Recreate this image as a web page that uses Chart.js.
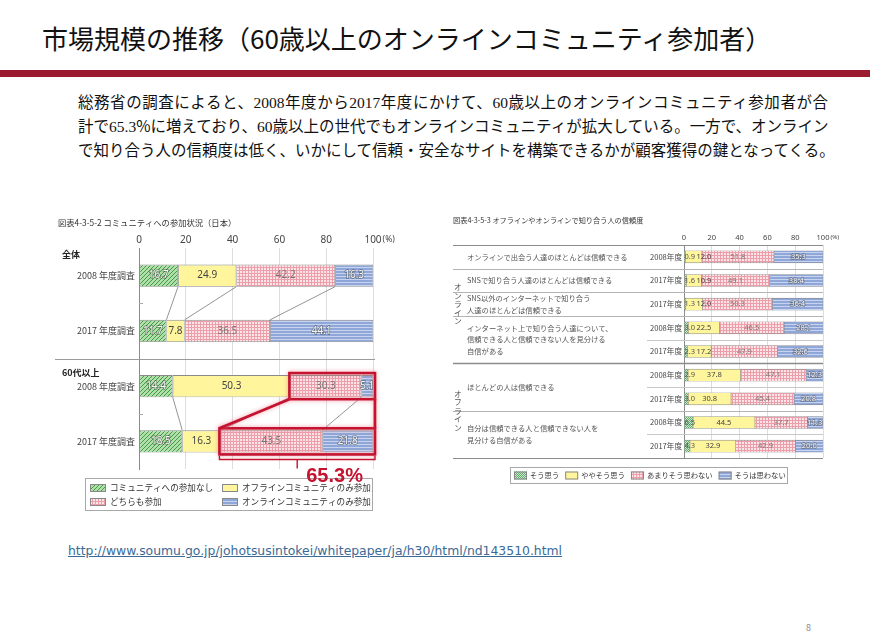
<!DOCTYPE html>
<html lang="ja">
<head>
<meta charset="utf-8">
<title>市場規模の推移</title>
<script src="https://cdn.jsdelivr.net/npm/chart.js@4.4.1/dist/chart.umd.min.js"></script>
<style>
  html, body { margin: 0; padding: 0; background: #fff; }
  body { width: 870px; height: 631px; position: relative; overflow: hidden; font-family: "Noto Sans CJK JP", "Noto Sans", sans-serif; color: #111; }
  .titulo { position: absolute; left: 42px; top: 20px; font-size: 26px; line-height: 36px; white-space: nowrap; }
  .faixa { position: absolute; left: 0; top: 70px; width: 870px; height: 7px; background: #9a1b2f; }
  .texto { position: absolute; left: 78px; top: 90px; font-size: 15.5px; line-height: 22px; }
  .texto div { white-space: nowrap; text-align: justify; text-align-last: justify; }
  .texto .n { font-family: "Liberation Serif", serif; }
  .link { position: absolute; left: 68px; top: 543px; font-family: "DejaVu Sans", sans-serif; font-size: 12.4px; color: #3b6a96; text-decoration: underline; white-space: nowrap; }
  .pagina { position: absolute; left: 806px; top: 621px; font-size: 9px; color: #888; }
  #graficoComunidade { position: absolute; left: 50px; top: 210px; }
  #graficoConfianca { position: absolute; left: 450px; top: 210px; }
</style>
</head>
<body>
<div class="titulo">市場規模の推移（60歳以上のオンラインコミュニティ参加者）</div>
<div class="faixa"></div>
<div class="texto">
  <div style="width:750px">総務省の調査によると、<span class="n">2008</span>年度から<span class="n">2017</span>年度にかけて、<span class="n">60</span>歳以上のオンラインコミュニティ参加者が合</div>
  <div style="width:750px">計で<span class="n">65.3</span>%に増えており、<span class="n">60</span>歳以上の世代でもオンラインコミュニティが拡大している。一方で、オンライン</div>
  <div style="width:755px">で知り合う人の信頼度は低く、いかにして信頼・安全なサイトを構築できるかが顧客獲得の鍵となってくる。</div>
</div>
<canvas id="graficoComunidade" width="360" height="305"></canvas>
<canvas id="graficoConfianca" width="400" height="280"></canvas>
<div class="link">http://www.soumu.go.jp/johotsusintokei/whitepaper/ja/h30/html/nd143510.html</div>
<div class="pagina">8</div>
<script>
// 図表4-3-5-2 コミュニティへの参加状況
const rotulosComunidade = ['2008 年度調査', '2017 年度調査', '2008 年度調査', '2017 年度調査'];
const gruposComunidade = ['全体', '60代以上'];
const semParticipacao = [16.7, 11.7, 14.4, 18.5];
const soOffline = [24.9, 7.8, 50.3, 16.3];
const ambos = [42.2, 36.5, 30.3, 43.5];
const soOnline = [16.3, 44.1, 5.1, 21.8];
const legendaComunidade = ['コミュニティへの参加なし', 'オフラインコミュニティのみ参加', 'どちらも参加', 'オンラインコミュニティのみ参加'];

// 図表4-3-5-3 知り合う人の信頼度
const perguntas = [
  ['オンラインで出会う人達のほとんどは信頼できる'],
  ['SNSで知り合う人達のほとんどは信頼できる'],
  ['SNS以外のインターネットで知り合う', '人達のほとんどは信頼できる'],
  ['インターネット上で知り合う人達について、', '信頼できる人と信頼できない人を見分ける', '自信がある'],
  ['ほとんどの人は信頼できる'],
  ['自分は信頼できる人と信頼できない人を', '見分ける自信がある']
];
const linhasPergunta = [1, 1, 1, 2, 2, 2];
const blocos = ['オンライン', 'オフライン'];
const perguntasBloco = [4, 2];
const anos = ['2008年度', '2017年度', '2017年度', '2008年度', '2017年度', '2008年度', '2017年度', '2008年度', '2017年度'];
const souOmou = [0.9, 1.6, 1.3, 3.0, 2.3, 2.9, 3.0, 6.5, 4.3];
const yayaSou = [12.0, 10.9, 12.0, 22.5, 17.2, 37.8, 30.8, 44.5, 32.9];
const amariSou = [51.8, 49.1, 50.3, 46.5, 47.9, 47.1, 45.4, 37.7, 42.9];
const souWaOmowanai = [35.3, 38.4, 36.4, 28.1, 32.6, 12.3, 20.8, 11.3, 20.0];
const legendaConfianca = ['そう思う', 'ややそう思う', 'あまりそう思わない', 'そうは思わない'];

const fonteJp = '"Noto Sans CJK JP", "Noto Sans", sans-serif';

function criaPadrao(tipo, fundo, tinta) {
  const c = document.createElement('canvas');
  const t = tipo === 'diagonal' ? 4 : tipo === 'xadrez' ? 2 : 3;
  c.width = t; c.height = t;
  const g = c.getContext('2d');
  g.fillStyle = fundo; g.fillRect(0, 0, t, t);
  g.fillStyle = tinta; g.strokeStyle = tinta;
  if (tipo === 'diagonal') {
    g.lineWidth = 1;
    g.beginPath();
    g.moveTo(0, t); g.lineTo(t, 0);
    g.moveTo(-1, 1); g.lineTo(1, -1);
    g.moveTo(t - 1, t + 1); g.lineTo(t + 1, t - 1);
    g.stroke();
  } else if (tipo === 'grade') {
    g.fillRect(0, 0, t, 1); g.fillRect(0, 0, 1, t);
  } else if (tipo === 'listras') {
    g.fillRect(0, 0, t, 1);
  } else {
    g.fillRect(0, 0, 1, 1); g.fillRect(1, 1, 1, 1);
  }
  return c.getContext('2d').createPattern(c, 'repeat');
}

const verdeHachura = criaPadrao('diagonal', '#b2dfa8', '#3f9b4d');
const verdeXadrez = criaPadrao('xadrez', '#5fae6e', '#cfe9d1');
const amarelo = '#fff59d';
const rosa = criaPadrao('grade', '#fde4e7', '#ec9eaa');
const azul = criaPadrao('listras', '#8ea7d8', '#c8d4ef');

function eixoX(tamanho, padding, altura) {
  return {
    type: 'linear', position: 'top', min: 0, max: 100, stacked: true,
    ticks: { stepSize: 20, padding: padding, color: '#444', font: { family: '"Noto Sans", sans-serif', size: tamanho } },
    grid: { color: '#d4d4d4', lineWidth: 0.8, drawTicks: false },
    border: { display: false },
    afterFit(s) { s.height = altura; s.paddingLeft = 0; s.paddingRight = 0; }
  };
}

function eixoY(tamanho, padding, largura) {
  return {
    type: 'category', stacked: true,
    ticks: { padding: padding, color: '#444', font: { family: fonteJp, size: tamanho } },
    grid: { display: false, drawTicks: false },
    border: { display: true, color: '#8a8a8a', width: 1 },
    afterFit(s) { s.width = largura; s.paddingTop = 0; s.paddingBottom = 0; }
  };
}

// valores dentro das barras
function rotulosValores(opcoes) {
  return {
    id: 'rotulosValores',
    afterDatasetsDraw(chart) {
      const ctx = chart.ctx;
      ctx.save();
      ctx.font = opcoes.fonte;
      ctx.textBaseline = 'middle';
      ctx.textAlign = 'left';
      for (let i = 0; i < chart.data.labels.length; i++) {
        let cursor = -Infinity;
        chart.data.datasets.forEach((ds, d) => {
          const el = chart.getDatasetMeta(d).data[i];
          const esq = Math.min(el.base, el.x), dir = Math.max(el.base, el.x);
          const txt = ds.data[i].toFixed(1);
          const tw = ctx.measureText(txt).width;
          let x0 = (esq + dir) / 2 - tw / 2;
          if (opcoes.empurra) {
            if (tw + 2 > dir - esq) x0 = esq;
            x0 = Math.max(x0, cursor);
          }
          cursor = x0 + tw + 1.5;
          const cor = opcoes.cores[d];
          if (cor.contorno) {
            ctx.strokeStyle = cor.contorno; ctx.lineWidth = 1.5;
            ctx.strokeText(txt, x0, el.y);
          }
          ctx.fillStyle = cor.texto;
          ctx.fillText(txt, x0, el.y);
        });
      }
      ctx.restore();
    }
  };
}

function textoPorcento(chart, tamanho, padding) {
  const { ctx, scales: { x } } = chart;
  ctx.save();
  ctx.font = tamanho + 'px "Noto Sans", sans-serif';
  const meia = ctx.measureText('100').width / 2;
  ctx.font = (tamanho - 1.5) + 'px "Noto Sans", sans-serif';
  ctx.fillStyle = '#444';
  ctx.textBaseline = 'middle';
  ctx.fillText('(%)', x.getPixelForValue(100) + meia + 1, x.bottom - padding - tamanho * 0.6);
  ctx.restore();
}

const extrasComunidade = {
  id: 'extrasComunidade',
  beforeDatasetsDraw(chart) {
    const { ctx, chartArea, scales: { y } } = chart;
    ctx.save();
    ctx.lineWidth = 1;
    const meio = Math.round((y.getPixelForValue(1) + y.getPixelForValue(2)) / 2) + 0.5;
    ctx.strokeStyle = '#9a9a9a';
    ctx.beginPath(); ctx.moveTo(5, meio); ctx.lineTo(chartArea.right + 2, meio); ctx.stroke();
    ctx.strokeStyle = '#aaa';
    [0, 2].forEach(i => {
      const m = Math.round((y.getPixelForValue(i) + y.getPixelForValue(i + 1)) / 2) + 0.5;
      ctx.beginPath(); ctx.moveTo(chartArea.left, m); ctx.lineTo(chartArea.left + 4, m); ctx.stroke();
    });
    ctx.restore();
  },
  afterDatasetsDraw(chart) {
    const { ctx, scales: { x } } = chart;
    const metas = chart.data.datasets.map((d, i) => chart.getDatasetMeta(i));
    const barra = (d, i) => metas[d].data[i];
    ctx.save();
    ctx.strokeStyle = '#7a7a7a'; ctx.lineWidth = 0.8;
    [[0, 1], [2, 3]].forEach(([a, b]) => {
      for (let d = 0; d < metas.length - 1; d++) {
        const ea = barra(d, a), eb = barra(d, b);
        ctx.beginPath();
        ctx.moveTo(ea.x, ea.y + ea.height / 2);
        ctx.lineTo(eb.x, eb.y - eb.height / 2);
        ctx.stroke();
      }
    });
    // destaque vermelho: どちらも参加 + オンラインのみ (60代以上)
    const r2 = barra(1, 2), r3 = barra(1, 3);
    const dir = x.getPixelForValue(100) + 2;
    const c2 = { l: r2.x - 1, t: r2.y - r2.height / 2 - 2, b: r2.y + r2.height / 2 + 2 };
    const c3 = { l: r3.x - 1, t: r3.y - r3.height / 2 - 2, b: r3.y + r3.height / 2 + 2 };
    ctx.strokeStyle = '#c4122f'; ctx.lineWidth = 2.6;
    ctx.shadowColor = 'rgba(235,110,125,0.7)'; ctx.shadowBlur = 4;
    ctx.strokeRect(c2.l, c2.t, dir - c2.l, c2.b - c2.t);
    ctx.strokeRect(c3.l, c3.t, dir - c3.l, c3.b - c3.t);
    ctx.beginPath();
    ctx.moveTo(c2.l, c2.b); ctx.lineTo(c3.l, c3.t);
    ctx.moveTo(dir, c2.b); ctx.lineTo(dir, c3.t);
    ctx.stroke();
    ctx.shadowBlur = 0;
    ctx.lineWidth = 1.4;
    const yb = c3.b + 5, meio = (c3.l + dir) / 2;
    ctx.beginPath();
    ctx.moveTo(c3.l, c3.b + 1.5); ctx.lineTo(c3.l, yb); ctx.lineTo(dir, yb); ctx.lineTo(dir, c3.b + 1.5);
    ctx.moveTo(meio, yb); ctx.lineTo(meio, yb + 9);
    ctx.stroke();
    ctx.restore();
    chart.$destaque = { meio: meio, yb: yb };
  },
  afterDraw(chart) {
    const { ctx, chartArea, scales: { y } } = chart;
    ctx.save();
    ctx.textBaseline = 'middle';
    ctx.fillStyle = '#333';
    ctx.font = '8.3px ' + fonteJp;
    ctx.fillText('図表4-3-5-2 コミュニティへの参加状況（日本）', 8, 13);
    ctx.font = 'bold 9px ' + fonteJp;
    ctx.fillStyle = '#222';
    ctx.fillText(gruposComunidade[0], 12, chartArea.top + 7);
    const meio = (y.getPixelForValue(1) + y.getPixelForValue(2)) / 2;
    ctx.fillText(gruposComunidade[1], 12, meio + 14);
    textoPorcento(chart, 10, 2);

    // legenda
    ctx.strokeStyle = '#a8a8a8'; ctx.lineWidth = 1;
    ctx.strokeRect(35.5, 268.5, 287, 32);
    ctx.font = '8.6px ' + fonteJp;
    const colunas = [40, 172], linhas = [278, 292];
    chart.data.datasets.forEach((ds, i) => {
      const cx = colunas[i % 2], cy = linhas[Math.floor(i / 2)];
      ctx.fillStyle = ds.backgroundColor; ctx.fillRect(cx, cy - 4, 16, 8);
      ctx.strokeStyle = '#888'; ctx.strokeRect(cx + 0.5, cy - 3.5, 15, 7);
      ctx.fillStyle = '#333'; ctx.fillText(ds.label, cx + 20, cy);
    });

    // 65.3%
    const total = (ambos[3] + soOnline[3]).toFixed(1) + '%';
    ctx.font = 'bold 20px "Liberation Sans", sans-serif';
    ctx.fillStyle = '#c4122f';
    ctx.textBaseline = 'alphabetic';
    ctx.fillText(total, chart.$destaque.meio + 9, chart.$destaque.yb + 23);
    ctx.restore();
  }
};

const extrasConfianca = {
  id: 'extrasConfianca',
  beforeDatasetsDraw(chart) {
    const { ctx, chartArea, scales: { y } } = chart;
    const passo = (chartArea.bottom - chartArea.top) / anos.length;
    const topo = r => Math.round(y.getPixelForValue(r) - passo / 2) + 0.5;
    const inicioBloco2 = linhasPergunta.slice(0, perguntasBloco[0]).reduce((a, b) => a + b, 0);
    ctx.save();
    let r = 0;
    perguntas.forEach((p, q) => {
      const yy = topo(r);
      ctx.strokeStyle = (r === inicioBloco2 || r === 0) ? '#8c8c8c' : '#b4b4b4';
      ctx.lineWidth = r === inicioBloco2 ? 1.3 : 1;
      ctx.beginPath(); ctx.moveTo(3, yy); ctx.lineTo(chartArea.right, yy); ctx.stroke();
      for (let k = 1; k < linhasPergunta[q]; k++) {
        const yi = topo(r + k);
        ctx.strokeStyle = '#c8c8c8'; ctx.lineWidth = 1;
        ctx.beginPath(); ctx.moveTo(197, yi); ctx.lineTo(chartArea.right, yi); ctx.stroke();
      }
      r += linhasPergunta[q];
    });
    const fim = Math.round(chartArea.bottom) + 0.5;
    ctx.strokeStyle = '#8c8c8c'; ctx.lineWidth = 1.2;
    ctx.beginPath(); ctx.moveTo(3, fim); ctx.lineTo(chartArea.right, fim); ctx.stroke();
    ctx.restore();
  },
  afterDraw(chart) {
    const { ctx, chartArea, scales: { y } } = chart;
    ctx.save();
    ctx.textBaseline = 'middle';
    ctx.fillStyle = '#333';
    ctx.font = '7.2px ' + fonteJp;
    ctx.fillText('図表4-3-5-3 オフラインやオンラインで知り合う人の信頼度', 3, 10);

    // perguntas
    ctx.font = '7.3px ' + fonteJp;
    ctx.fillStyle = '#555';
    let r = 0;
    const faixas = [];
    perguntas.forEach((p, q) => {
      const cy = (y.getPixelForValue(r) + y.getPixelForValue(r + linhasPergunta[q] - 1)) / 2;
      p.forEach((linha, j) => ctx.fillText(linha, 17, cy + (j - (p.length - 1) / 2) * 11.5));
      faixas.push([r, r + linhasPergunta[q] - 1]);
      r += linhasPergunta[q];
    });

    // オンライン / オフライン (縦書き)
    ctx.textAlign = 'center';
    ctx.font = '7.8px ' + fonteJp;
    let q0 = 0;
    blocos.forEach((nome, b) => {
      const ini = faixas[q0][0], fim = faixas[q0 + perguntasBloco[b] - 1][1];
      const cy = (y.getPixelForValue(ini) + y.getPixelForValue(fim)) / 2;
      const chars = Array.from(nome);
      chars.forEach((ch, k) => ctx.fillText(ch, 8, cy + (k - (chars.length - 1) / 2) * 8.5));
      q0 += perguntasBloco[b];
    });
    ctx.textAlign = 'left';
    textoPorcento(chart, 7.5, 3);

    // legenda
    ctx.strokeStyle = '#a8a8a8'; ctx.lineWidth = 1;
    ctx.strokeRect(60.5, 257.5, 277, 16);
    ctx.font = '7.3px ' + fonteJp;
    let lx = 64;
    chart.data.datasets.forEach(ds => {
      ctx.fillStyle = ds.backgroundColor; ctx.fillRect(lx, 261.5, 13, 8);
      ctx.strokeStyle = '#888'; ctx.strokeRect(lx + 0.5, 262, 12, 7);
      ctx.fillStyle = '#333'; ctx.fillText(ds.label, lx + 16, 265.5);
      lx += 16 + ctx.measureText(ds.label).width + 6;
    });
    ctx.restore();
  }
};

const dadosComunidade = [semParticipacao, soOffline, ambos, soOnline];
const coresComunidade = [verdeHachura, amarelo, rosa, azul];

new Chart(document.getElementById('graficoComunidade'), {
  type: 'bar',
  data: {
    labels: rotulosComunidade,
    datasets: dadosComunidade.map((serie, i) => ({
      label: legendaComunidade[i],
      data: serie,
      backgroundColor: coresComunidade[i],
      borderColor: '#8a8a8a',
      borderWidth: 0.8,
      borderSkipped: false,
      barPercentage: 0.4,
      categoryPercentage: 1
    }))
  },
  options: {
    indexAxis: 'y',
    responsive: false,
    animation: false,
    layout: { padding: { left: 0, right: 37, top: 0, bottom: 46 } },
    scales: { x: eixoX(10, 2, 38), y: eixoY(9, 4, 89) },
    plugins: { legend: { display: false }, tooltip: { enabled: false } }
  },
  plugins: [
    extrasComunidade,
    rotulosValores({
      fonte: '10px "Noto Sans", sans-serif',
      empurra: false,
      cores: [
        { texto: '#f6f6f6', contorno: 'rgba(60,60,60,0.55)' },
        { texto: '#444' },
        { texto: '#777' },
        { texto: '#f6f6f6', contorno: 'rgba(60,60,60,0.55)' }
      ]
    })
  ]
});

const dadosConfianca = [souOmou, yayaSou, amariSou, souWaOmowanai];
const coresConfianca = [verdeXadrez, amarelo, rosa, azul];

new Chart(document.getElementById('graficoConfianca'), {
  type: 'bar',
  data: {
    labels: anos,
    datasets: dadosConfianca.map((serie, i) => ({
      label: legendaConfianca[i],
      data: serie,
      backgroundColor: coresConfianca[i],
      borderColor: '#8a8a8a',
      borderWidth: 0.6,
      borderSkipped: false,
      barThickness: 12
    }))
  },
  options: {
    indexAxis: 'y',
    responsive: false,
    animation: false,
    layout: { padding: { left: 0, right: 27, top: 0, bottom: 32 } },
    scales: { x: eixoX(7.5, 3, 35), y: eixoY(7.6, 2, 234) },
    plugins: { legend: { display: false }, tooltip: { enabled: false } }
  },
  plugins: [
    extrasConfianca,
    rotulosValores({
      fonte: '7.5px "Noto Sans", sans-serif',
      empurra: true,
      cores: [
        { texto: '#555' },
        { texto: '#444' },
        { texto: '#777' },
        { texto: '#f6f6f6', contorno: 'rgba(60,60,60,0.5)' }
      ]
    })
  ]
});
</script>
</body>
</html>
